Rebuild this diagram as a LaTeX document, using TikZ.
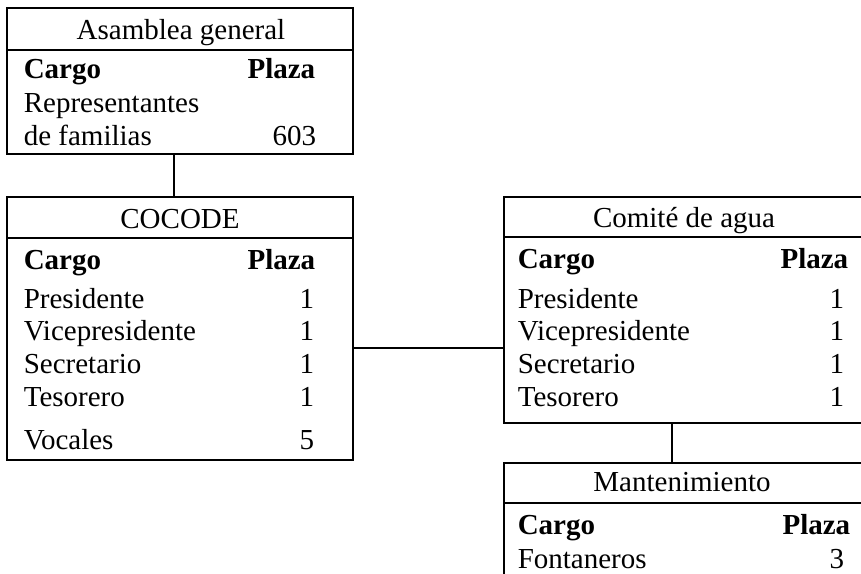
\documentclass[tikz,border=0pt]{standalone}
\usepackage{fontspec}
\setmainfont{Liberation Serif}
\usepackage{tikz}

\begin{document}
\begin{tikzpicture}[x=1pt,y=-1pt,line width=1.6pt,
    caja/.style={draw,rectangle,anchor=north west,inner sep=0pt},
    titulo/.style={anchor=base,inner sep=0pt,font=\fontsize{29}{34}\selectfont},
    izq/.style={anchor=base west,inner sep=0pt,font=\fontsize{29}{34}\selectfont},
    der/.style={anchor=base east,inner sep=0pt,font=\fontsize{29}{34}\selectfont}]
    \useasboundingbox (0,0) rectangle (861,573);
    \clip (0,0) rectangle (861,573);

    \node[caja,minimum width=346pt,minimum height=146pt] (asamblea) at (6,7) {};
    \node[caja,minimum width=346pt,minimum height=263pt] (cocode) at (6,196) {};
    \node[caja,minimum width=380pt,minimum height=226pt] (comite) at (503,196) {};
    \node[caja,minimum width=380pt,minimum height=140pt] (mant) at (503,462) {};

    \draw (asamblea.west |- 0,50) -- (asamblea.east |- 0,50);
    \draw (cocode.west |- 0,238) -- (cocode.east |- 0,238);
    \draw (comite.west |- 0,237) -- (comite.east |- 0,237);
    \draw (mant.west |- 0,503) -- (mant.east |- 0,503);

    \node[titulo] (asambleaT) at (181,39) {Asamblea general};
    \node[izq] (a1) at (23,78) {\textbf{Cargo}};
    \node[der] (a2) at (316,78) {\textbf{Plaza}};
    \node[izq] (a3) at (23,112) {Representantes};
    \node[izq] (a4) at (23,145) {de familias};
    \node[der] (a5) at (317,145) {603};

    \node[titulo] (cocodeT) at (180,228) {COCODE};
    \node[izq] (b1) at (23,269) {\textbf{Cargo}};
    \node[der] (b2) at (316,269) {\textbf{Plaza}};
    \node[izq] (b3) at (23,308) {Presidente};
    \node[der] (b4) at (315,308) {1};
    \node[izq] (b5) at (23,340) {Vicepresidente};
    \node[der] (b6) at (315,340) {1};
    \node[izq] (b7) at (23,373) {Secretario};
    \node[der] (b8) at (315,373) {1};
    \node[izq] (b9) at (23,406) {Tesorero};
    \node[der] (b10) at (315,406) {1};
    \node[izq] (b11) at (23,449) {Vocales};
    \node[der] (b12) at (315,449) {5};

    \node[titulo] (comiteT) at (684,227) {Comité de agua};
    \node[izq] (c1) at (517,268) {\textbf{Cargo}};
    \node[der] (c2) at (849,268) {\textbf{Plaza}};
    \node[izq] (c3) at (517,308) {Presidente};
    \node[der] (c4) at (845,308) {1};
    \node[izq] (c5) at (517,340) {Vicepresidente};
    \node[der] (c6) at (845,340) {1};
    \node[izq] (c7) at (517,373) {Secretario};
    \node[der] (c8) at (845,373) {1};
    \node[izq] (c9) at (517,406) {Tesorero};
    \node[der] (c10) at (845,406) {1};

    \node[titulo] (mantT) at (682,491) {Mantenimiento};
    \node[izq] (d1) at (517,534) {\textbf{Cargo}};
    \node[der] (d2) at (851,534) {\textbf{Plaza}};
    \node[izq] (d3) at (517,568) {Fontaneros};
    \node[der] (d4) at (845,568) {3};

    \draw ([xshift=-6pt]asamblea.south) -- ([xshift=-6pt]cocode.north);
    \draw ([yshift=-19.5pt]cocode.east) -- ([yshift=-19.5pt]cocode.east -| comite.west);
    \draw (comite.south -| 672,0) -- (mant.north -| 672,0);
\end{tikzpicture}
\end{document}
